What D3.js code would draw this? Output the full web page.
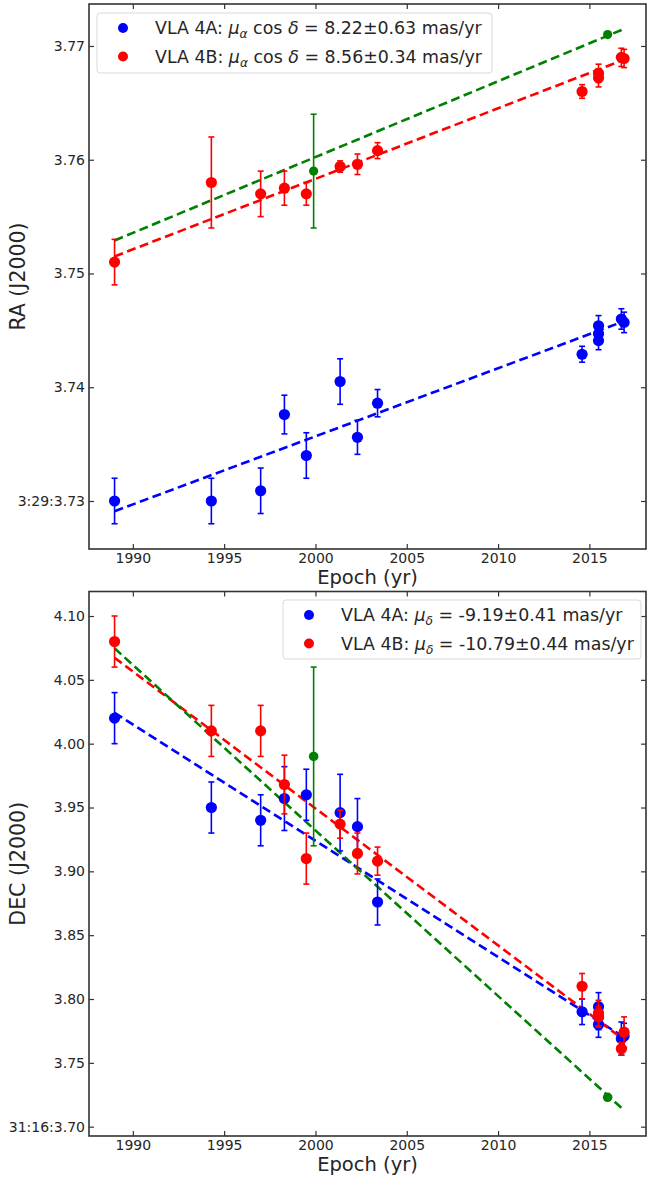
<!DOCTYPE html>
<html><head><meta charset="utf-8">
<script src="https://cdn.jsdelivr.net/npm/d3@7"></script>
<style>
body{margin:0;background:#fff}
svg{display:block}
text{font-family:"DejaVu Sans",sans-serif;fill:#262626}
</style>
</head><body><svg id="c" width="647" height="1178"></svg>
<script>
// ---------- data ----------
const epochsA = [1989.0,1994.3,1997.0,1998.3,1999.5,2001.35,2002.3,2003.4,2014.6,2015.5,2015.5,2015.5,2016.75,2016.9];
const raA     = [3.7300,3.7300,3.7309,3.7376,3.7340,3.7405,3.7356,3.7386,3.7429,3.7454,3.7447,3.7441,3.7460,3.7457];
const raAErr  = [0.002,0.002,0.002,0.0017,0.002,0.002,0.0015,0.0012,0.0007,0.0009,0.0008,0.0008,0.0009,0.0009];
const decA    = [4.020,3.950,3.940,3.957,3.960,3.946,3.935,3.876,3.790,3.794,3.786,3.780,3.769,3.771];
const decAErr = [0.02,0.02,0.02,0.025,0.02,0.03,0.022,0.018,0.01,0.011,0.01,0.01,0.013,0.010];

const epochsB = [1989.0,1994.3,1997.0,1998.3,1999.5,2001.35,2002.3,2003.4,2014.6,2015.5,2015.5,2016.75,2016.9];
const raB     = [3.7510,3.7580,3.7570,3.7575,3.7570,3.7594,3.7596,3.7608,3.7660,3.7676,3.7672,3.7690,3.7689];
const raBErr  = [0.002,0.004,0.002,0.0015,0.001,0.0005,0.0009,0.0007,0.0006,0.0008,0.0008,0.0008,0.0008];
const decB    = [4.080,4.010,4.010,3.968,3.910,3.937,3.914,3.908,3.810,3.789,3.786,3.761,3.774];
const decBErr = [0.02,0.02,0.02,0.023,0.02,0.011,0.016,0.011,0.01,0.01,0.008,0.005,0.012];

const epochsC = [1999.9, 2016.0];
const raC     = [3.7590, 3.7710];
const raCErr  = [0.005, 0];
const decC    = [3.990, 3.723];
const decCErr = [0.07, 0];

const fitEpochs = [1989.0, 2016.9];
const raFitA  = [3.7291, 3.7458];
const raFitB  = [3.7515, 3.7688];
const raFitC  = [3.7529, 3.7715];
const decFitA = [4.0242, 3.7700];
const decFitB = [4.0673, 3.7680];
const decFitC = [4.0747, 3.7129];

const xTicks = [1990,1995,2000,2005,2010,2015];
const raTicks = [3.73,3.74,3.75,3.76,3.77];
const raTickLabels = ["3:29:3.73","3.74","3.75","3.76","3.77"];
const decTicks = [3.70,3.75,3.80,3.85,3.90,3.95,4.00,4.05,4.10];
const decTickLabels = ["31:16:3.70","3.75","3.80","3.85","3.90","3.95","4.00","4.05","4.10"];

const seriesNames = ["VLA 4A","VLA 4B"];
const raPM  = ["8.22±0.63 mas/yr","8.56±0.34 mas/yr"];
const decPM = ["-9.19±0.41 mas/yr","-10.79±0.44 mas/yr"];

const colA = "#0000ff", colB = "#ff0000", colC = "#008000";

// ---------- drawing ----------
const svg = d3.select("#c");

function drawPanel(p){
  const g = svg.append("g");
  const x = d3.scaleLinear().domain([1987.6, 2018.1]).range([p.left, p.right]);
  const y = d3.scaleLinear().domain(p.ydom).range([p.bottom, p.top]);

  // fit lines
  const line = d3.line().x(d=>x(d[0])).y(d=>y(d[1]));
  p.fits.forEach(f=>{
    g.append("path").datum(fitEpochs.map((e,i)=>[e,f.v[i]]))
      .attr("d",line).attr("fill","none").attr("stroke",f.c)
      .attr("stroke-width",2.6).attr("stroke-dasharray","9,4.5");
  });

  // error bars + points
  p.series.forEach(s=>{
    const data = s.e.map((e,i)=>({t:e, v:s.v[i], err:s.err[i]}));
    const eg = g.append("g").attr("stroke",s.c).attr("stroke-width",1.6);
    data.filter(d=>d.err>0).forEach(d=>{
      eg.append("line").attr("x1",x(d.t)).attr("x2",x(d.t)).attr("y1",y(d.v-d.err)).attr("y2",y(d.v+d.err));
      eg.append("line").attr("x1",x(d.t)-3).attr("x2",x(d.t)+3).attr("y1",y(d.v-d.err)).attr("y2",y(d.v-d.err));
      eg.append("line").attr("x1",x(d.t)-3).attr("x2",x(d.t)+3).attr("y1",y(d.v+d.err)).attr("y2",y(d.v+d.err));
    });
    g.append("g").selectAll("circle").data(data).join("circle")
      .attr("cx",d=>x(d.t)).attr("cy",d=>y(d.v)).attr("r",s.r).attr("fill",s.c);
  });

  // axes (inward ticks on all four sides)
  const ax = (gen, tx, ty)=>{
    const a = g.append("g").attr("transform",`translate(${tx},${ty})`).call(gen);
    a.select(".domain").remove();
    a.selectAll(".tick line").attr("stroke","#333").attr("stroke-width",1.2);
    a.selectAll("text").attr("font-size",14).attr("fill","#262626").attr("font-family","DejaVu Sans");
    return a;
  };
  ax(d3.axisBottom(x).tickValues(xTicks).tickFormat(d3.format("d")).tickSize(-5).tickPadding(4).tickSizeOuter(0), 0, p.bottom);
  ax(d3.axisTop(x).tickValues(xTicks).tickFormat("").tickSize(-5).tickSizeOuter(0), 0, p.top);
  ax(d3.axisLeft(y).tickValues(p.yticks).tickFormat((d,i)=>p.ylabels[i]).tickSize(-5).tickPadding(4).tickSizeOuter(0), p.left, 0);
  ax(d3.axisRight(y).tickValues(p.yticks).tickFormat("").tickSize(-5).tickSizeOuter(0), p.right, 0);

  // frame
  g.append("rect").attr("x",p.left).attr("y",p.top).attr("width",p.right-p.left).attr("height",p.bottom-p.top)
    .attr("fill","none").attr("stroke","#333").attr("stroke-width",1.6);

  // axis labels
  g.append("text").attr("x",(p.left+p.right)/2).attr("y",p.bottom+34.5).attr("text-anchor","middle")
    .attr("font-size",19.5).text("Epoch (yr)");
  g.append("text").attr("transform",`translate(24.5,${(p.top+p.bottom)/2}) rotate(-90)`).attr("text-anchor","middle")
    .attr("font-size",20.5).text(p.ylabel);

  // legend
  const L = p.legend;
  const lg = g.append("g");
  lg.append("rect").attr("x",L.x).attr("y",L.y).attr("width",L.w).attr("height",L.h).attr("rx",3)
    .attr("fill","#fff").attr("fill-opacity",0.85).attr("stroke","#d9d9d9").attr("stroke-width",1);
  [colA,colB].forEach((c,i)=>{
    const cy = L.y + 15 + i*28.5;
    lg.append("circle").attr("cx",L.x+26).attr("cy",cy).attr("r",5).attr("fill",c);
    const t = lg.append("text").attr("x",L.x+58).attr("y",cy+6).attr("font-size",L.fs);
    t.append("tspan").text(seriesNames[i]+": ");
    t.append("tspan").attr("font-style","italic").text("μ");
    t.append("tspan").attr("font-style","italic").attr("font-size",L.fs*0.7).attr("dy",4).text(L.sub);
    if(L.cos){
      t.append("tspan").attr("dy",-4).text(" cos ");
      t.append("tspan").attr("font-style","italic").text("δ");
      t.append("tspan").text(" = "+L.pm[i]);
    } else {
      t.append("tspan").attr("dy",-4).text(" = "+L.pm[i]);
    }
  });
}

drawPanel({
  left:89, right:646, top:4, bottom:549,
  ydom:[3.72578, 3.77369], yticks:raTicks, ylabels:raTickLabels, ylabel:"RA (J2000)",
  fits:[{v:raFitA,c:colA},{v:raFitB,c:colB},{v:raFitC,c:colC}],
  series:[{e:epochsA,v:raA,err:raAErr,c:colA,r:5.6},{e:epochsB,v:raB,err:raBErr,c:colB,r:5.6},{e:epochsC,v:raC,err:raCErr,c:colC,r:4.6}],
  legend:{x:97,y:13,w:395,h:60,fs:17.4,sub:"α",cos:true,pm:raPM}
});
drawPanel({
  left:89, right:646, top:591.5, bottom:1136,
  ydom:[3.6927, 4.1192], yticks:decTicks, ylabels:decTickLabels, ylabel:"DEC (J2000)",
  fits:[{v:decFitA,c:colA},{v:decFitB,c:colB},{v:decFitC,c:colC}],
  series:[{e:epochsA,v:decA,err:decAErr,c:colA,r:5.6},{e:epochsB,v:decB,err:decBErr,c:colB,r:5.6},{e:epochsC,v:decC,err:decCErr,c:colC,r:4.8}],
  legend:{x:283,y:600,w:358,h:59,fs:17.4,sub:"δ",cos:false,pm:decPM}
});
</script>
</body></html>
